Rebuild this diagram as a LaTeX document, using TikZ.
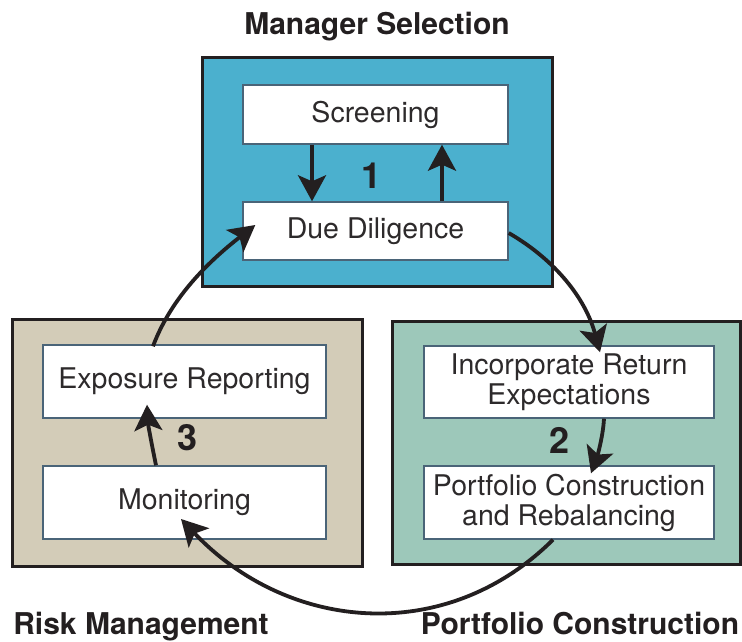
\documentclass[tikz,border=0pt]{standalone}
\usepackage{fontspec}
\setmainfont{TeX Gyre Heros}
\usetikzlibrary{arrows.meta}
\definecolor{selblue}{RGB}{75,176,206}
\definecolor{riskbeige}{RGB}{211,204,184}
\definecolor{portgreen}{RGB}{157,200,186}
\definecolor{stepedge}{RGB}{74,100,120}
\definecolor{ink}{RGB}{35,31,32}
\definecolor{steptext}{RGB}{45,42,43}
\begin{document}
\begin{tikzpicture}[x=1pt,y=1pt,
  stage/.style={draw=ink, line width=3pt, inner sep=0pt},
  stepbox/.style={draw=stepedge, line width=1.4pt, fill=white, inner sep=0pt,
    minimum width=265pt, minimum height=59pt, align=center, text=steptext,
    font=\fontsize{28.5}{30}\selectfont},
  flow/.style={draw=ink, line width=3.8pt,
    -{Stealth[length=26pt,width=28pt,inset=6pt]}},
  title/.style={font=\bfseries\fontsize{30}{32}\selectfont, text=ink, anchor=base, inner sep=0pt},
  num/.style={font=\bfseries\fontsize{36}{38}\selectfont, text=ink, inner sep=0pt}]
\useasboundingbox (0,0) rectangle (742,642);

% stage panels
\node[stage, fill=selblue, minimum width=350pt, minimum height=229pt] (msel) at (377,469.5) {};
\node[stage, fill=riskbeige, minimum width=350pt, minimum height=247pt] (rmgt) at (187,198.5) {};
\node[stage, fill=portgreen, minimum width=348pt, minimum height=243pt] (pcon) at (566,198.5) {};

% process steps
\node[stepbox] (scr) at (375.5,527.5) {Screening};
\node[stepbox, minimum height=58pt] (dd) at (375.5,411) {Due Diligence};
\node[stepbox, minimum width=283pt, minimum height=73pt] (exp) at (184.5,260.5) {Exposure Reporting};
\node[stepbox, minimum width=283pt, minimum height=73pt] (mon) at (184.5,139.5) {Monitoring};
\node[stepbox, minimum width=290pt, minimum height=72pt] (inc) at (569,260) {Incorporate Return\\Expectations};
\node[stepbox, minimum width=290pt, minimum height=73pt] (pcr) at (569,139.5) {Portfolio Construction\\and Rebalancing};

% stage titles and numbers
\node[title] (tmsel) at (377,607) {Manager Selection};
\node[title] (trm) at (141,7) {Risk Management};
\node[title] (tpc) at (580,7) {Portfolio Construction};
\node[num] (n1) at (371.5,466) {1};
\node[num] (n2) at (560,202) {2};
\node[num] (n3) at (188,204) {3};

% arrows inside the stages
\draw[flow] ([xshift=-63.5pt]scr.south) -- ([xshift=-63.5pt]dd.north);
\draw[flow] ([xshift=66.5pt]dd.north) -- ([xshift=66.5pt]scr.south);
\draw[flow] ([xshift=35pt]inc.south) .. controls (603,205) and (597,185) .. ([xshift=22pt,yshift=-8pt]pcr.north);
\draw[flow] ([xshift=-28.5pt]mon.north) .. controls (152,196) and (148,218) .. ([xshift=-37.5pt,yshift=14pt]exp.south);

% arrows between the stages
\draw[flow] ([xshift=-31.5pt,yshift=-2pt]exp.north) .. controls (172,347) and (213,384) .. ([xshift=13pt,yshift=6pt]dd.west);
\draw[flow] ([yshift=-2pt]dd.east) .. controls (557,381) and (586,342) .. ([xshift=31pt,yshift=-7pt]inc.north);
\draw[flow] ([xshift=-16pt]pcr.south) .. controls (446,-4) and (288,10) .. ([xshift=-3.5pt,yshift=-16.5pt]mon.center);
\end{tikzpicture}
\end{document}
